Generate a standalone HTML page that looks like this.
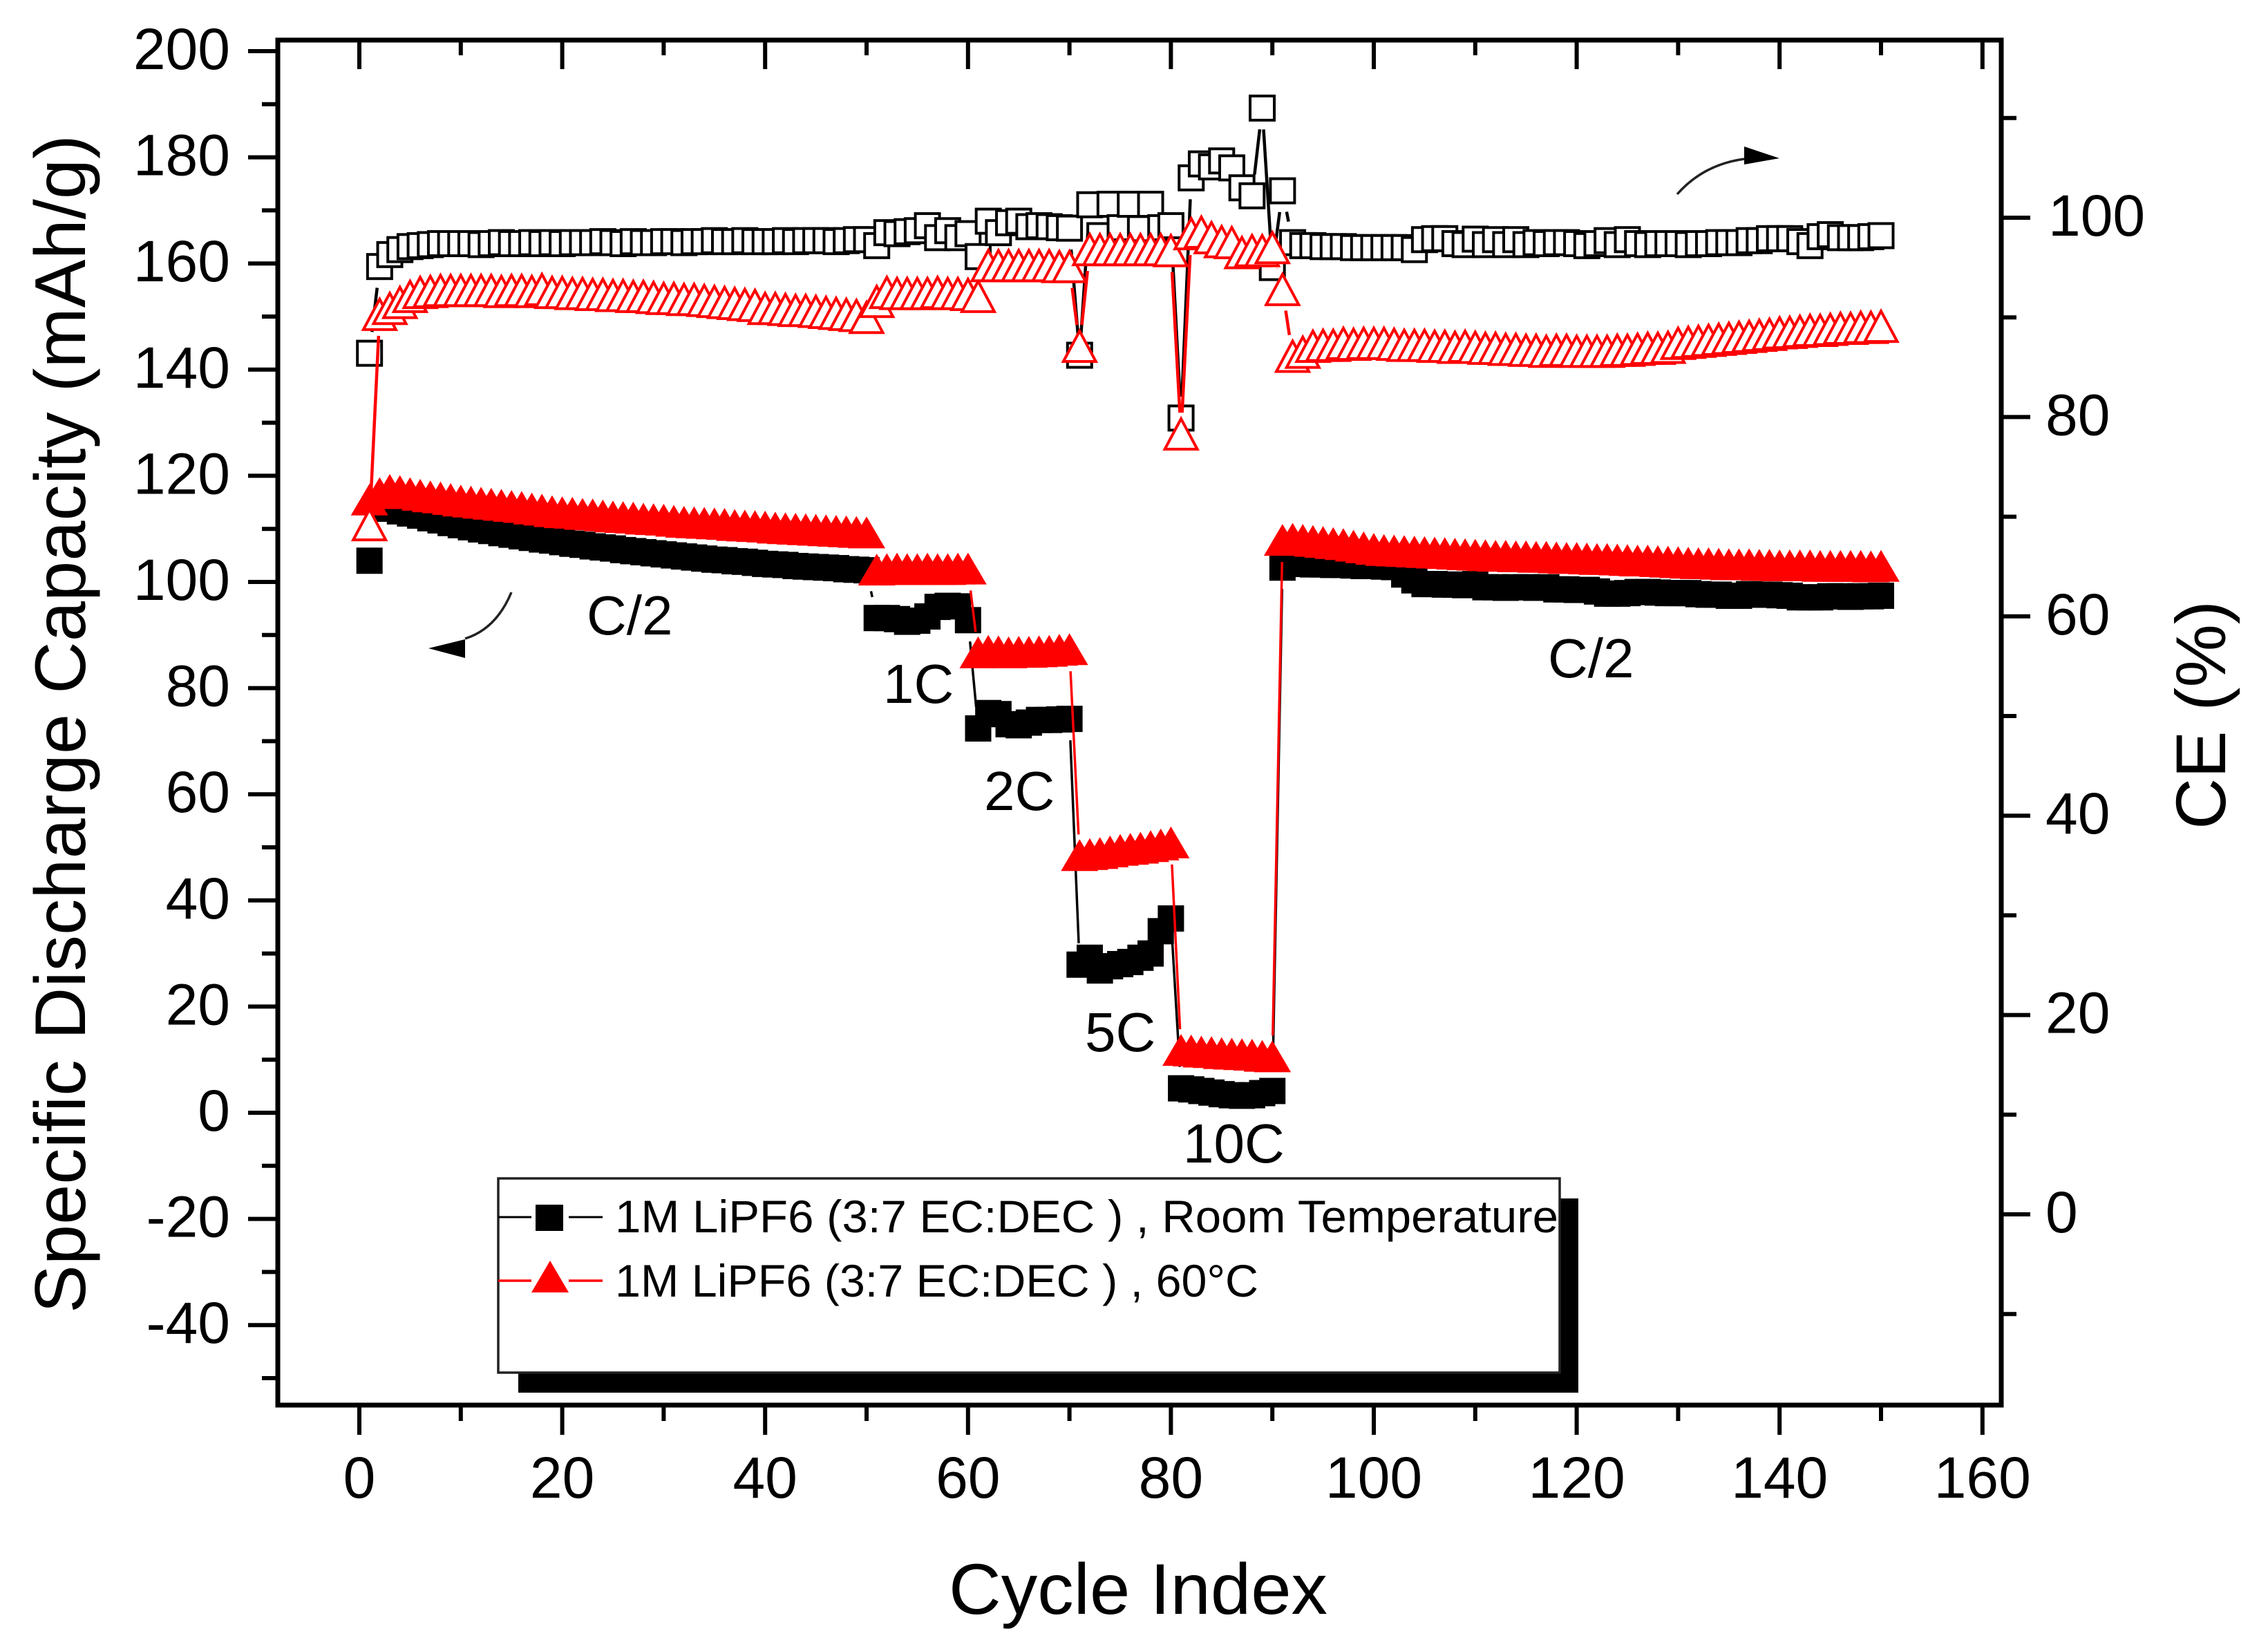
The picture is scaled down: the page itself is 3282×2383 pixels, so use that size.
<!DOCTYPE html>
<html>
<head>
<meta charset="utf-8">
<title>Specific Discharge Capacity vs Cycle Index</title>
<style>
html,body{margin:0;padding:0;background:#fff;}
svg{display:block;}
text{font-family:"Liberation Sans",sans-serif;fill:#000;}
</style>
</head>
<body>
<svg id="chart" xmlns="http://www.w3.org/2000/svg" width="3282" height="2383" viewBox="0 0 3282 2383">
  <rect x="0" y="0" width="3282" height="2383" fill="#fff"/>
  <g id="series-layer"></g>
  <rect x="402" y="58" width="2494" height="1975" fill="none" stroke="#000" stroke-width="7"/>
  <g id="axis-layer"></g>

  <text transform="translate(123,1900) rotate(-90)" font-size="104" textLength="1705" lengthAdjust="spacingAndGlyphs">Specific Discharge Capacity (mAh/g)</text>
  <text transform="translate(3220,1200) rotate(-90)" font-size="102" textLength="331" lengthAdjust="spacingAndGlyphs">CE (%)</text>
  <text x="1373" y="2335" font-size="104" textLength="548" lengthAdjust="spacingAndGlyphs">Cycle Index</text>

  <text x="849" y="918" font-size="80">C/2</text>
  <text x="1278" y="1017" font-size="80">1C</text>
  <text x="1424" y="1172" font-size="80">2C</text>
  <text x="1570" y="1521" font-size="80">5C</text>
  <text x="1712" y="1682" font-size="80">10C</text>
  <text x="2240" y="980" font-size="80">C/2</text>

  <g>
    <path d="M740,857 Q718,910 673,924" fill="none" stroke="#222" stroke-width="3.5"/>
    <polygon points="620,938 673,925 673,952" fill="#000"/>
  </g>
  <g>
    <path d="M2427,281 Q2465,238 2524,230" fill="none" stroke="#222" stroke-width="3.5"/>
    <polygon points="2575,229 2524,212 2524,238" fill="#000"/>
  </g>

  <g>
    <rect x="750" y="1734" width="1534" height="281" fill="#000"/>
    <rect x="721" y="1705" width="1536" height="281" fill="#fff" stroke="#222" stroke-width="3.5"/>
    <line x1="721" y1="1761" x2="769" y2="1761" stroke="#000" stroke-width="3"/>
    <line x1="823" y1="1761" x2="872" y2="1761" stroke="#000" stroke-width="3"/>
    <rect x="775" y="1743" width="40" height="38" fill="#000"/>
    <text x="890" y="1783" font-size="66" textLength="1365" lengthAdjust="spacingAndGlyphs">1M LiPF6 (3:7 EC:DEC ) , Room Temperature</text>
    <line x1="721" y1="1853" x2="769" y2="1853" stroke="#f00" stroke-width="3.5"/>
    <line x1="823" y1="1853" x2="872" y2="1853" stroke="#f00" stroke-width="3.5"/>
    <polygon points="769,1870 796,1824 823,1870" fill="#f00"/>
    <text x="890" y="1876" font-size="66" textLength="931" lengthAdjust="spacingAndGlyphs">1M LiPF6 (3:7 EC:DEC ) , 60°C</text>
  </g>
</svg>

<script>
// Tick labels
const xMajorTicks = [0, 20, 40, 60, 80, 100, 120, 140, 160];
const xMinorTicks = [10, 30, 50, 70, 90, 110, 130, 150];
const capMajorTicks = [-40, -20, 0, 20, 40, 60, 80, 100, 120, 140, 160, 180, 200];
const capMinorTicks = [-50, -30, -10, 10, 30, 50, 70, 90, 110, 130, 150, 170, 190];
const ceMajorTicks = [0, 20, 40, 60, 80, 100];
const ceMinorTicks = [-10, 10, 30, 50, 70, 90, 110];

// Specific discharge capacity at room temperature, cycles 1-150 (mAh/g)
const capacityRoom = [
104, 114.2, 113.8, 113.3, 112.9, 112.5, 112, 111.6, 111.1, 110.7,
110.3, 109.9, 109.6, 109.2, 108.9, 108.6, 108.3, 108, 107.8, 107.5,
107.2, 107, 106.7, 106.5, 106.3, 106, 105.8, 105.6, 105.4, 105.2,
105, 104.8, 104.6, 104.4, 104.2, 104.1, 103.9, 103.8, 103.6, 103.4,
103.3, 103.2, 103, 102.9, 102.8, 102.7, 102.6, 102.4, 102.3, 102.2,
93.2, 93.2, 93, 92.5, 92.7, 93.5, 95.3, 95.5, 95.4, 92.8,
72.4, 75.3, 75.1, 73.2, 73, 73.5, 74, 74, 74.1, 74.2,
27.9, 29.2, 26.8, 27.6, 28, 28.4, 29.2, 30, 34.2, 36.6,
4.6, 4.4, 4.1, 3.8, 3.5, 3.3, 3.2, 3.3, 3.7, 4.1,
102.7, 103.4, 103.4, 103.3, 103.3, 103.2, 103.2, 103.1, 103, 103,
102.9, 102.8, 101.4, 100.3, 99.6, 99.6, 99.5, 99.5, 99.4, 99.6,
99, 99, 98.9, 99, 99, 98.9, 99, 98.6, 98.6, 98.5,
98.5, 98.2, 97.8, 97.8, 97.9, 98.1, 98.1, 98, 97.9, 97.9,
97.9, 97.7, 97.6, 97.6, 97.4, 97.4, 97.7, 97.6, 97.6, 97.5,
97.4, 97.1, 97.1, 97.1, 97.3, 97.3, 97.2, 97.3, 97.3, 97.4
];

// Specific discharge capacity at 60 C, cycles 1-150 (mAh/g)
const capacity60C = [
115.4, 116.6, 117.2, 117, 116.6, 116.3, 116, 115.8, 115.5, 115.2,
115, 114.8, 114.6, 114.4, 114.2, 114, 113.7, 113.5, 113.2, 113,
112.9, 112.7, 112.6, 112.4, 112.2, 112.1, 112, 111.8, 111.7, 111.6,
111.4, 111.2, 111.1, 111, 110.9, 110.8, 110.6, 110.5, 110.4, 110.3,
110.1, 110, 109.9, 109.8, 109.7, 109.6, 109.5, 109.4, 109.3, 109.2,
102.2, 102.3, 102.4, 102.3, 102.3, 102.4, 102.3, 102.3, 102.4, 102.4,
86.6, 86.9, 86.8, 86.6, 86.7, 86.7, 86.8, 86.9, 87.1, 87.2,
48.4, 48.6, 48.8, 49.1, 49.4, 49.6, 49.8, 50.1, 50.4, 50.8,
11.7, 11.6, 11.4, 11.3, 11.1, 11, 10.9, 10.8, 10.6, 10.5,
107.8, 108, 107.8, 107.6, 107.4, 107.2, 107, 106.7, 106.4, 106.1,
105.9, 105.8, 105.7, 105.6, 105.5, 105.4, 105.3, 105.2, 105.1, 105,
104.9, 104.8, 104.8, 104.7, 104.7, 104.6, 104.6, 104.5, 104.4, 104.4,
104.3, 104.2, 104.2, 104.1, 104, 103.9, 103.9, 103.8, 103.7, 103.6,
103.5, 103.4, 103.4, 103.3, 103.2, 103.2, 103.2, 103.1, 103.1, 103,
103, 103, 103, 102.9, 102.9, 102.9, 102.9, 102.9, 102.8, 102.9
];

// Coulombic efficiency at room temperature, cycles 1-150 (%)
const ceRoom = [
86.4, 95.1, 96.3, 96.8, 97.1, 97.2, 97.3, 97.4, 97.4, 97.4,
97.4, 97.3, 97.4, 97.5, 97.4, 97.4, 97.5, 97.4, 97.5, 97.4,
97.5, 97.5, 97.5, 97.6, 97.5, 97.4, 97.6, 97.5, 97.5, 97.6,
97.6, 97.5, 97.6, 97.6, 97.7, 97.6, 97.6, 97.7, 97.6, 97.6,
97.6, 97.7, 97.6, 97.7, 97.7, 97.7, 97.6, 97.7, 97.8, 97.8,
97.2, 98.5, 98.4, 98.6, 98.7, 99.2, 98, 98.7, 98, 98.4,
96.1, 99.65, 98.5, 99.5, 99.65, 99.1, 99.2, 99.1, 99, 98.95,
86.2, 101.3, 98.2, 101.35, 99, 101.35, 98.9, 101.35, 99, 99.2,
79.9, 104, 105.4, 105.1, 105.7, 105, 103, 102.2, 111, 95,
102.7, 97.5, 97.2, 97.2, 97.1, 97.1, 97.1, 97, 97, 97,
97, 97, 97, 96.8, 97.8, 97.9, 97.9, 97.4, 97.3, 97.85,
97.3, 97.8, 97.3, 97.8, 97.3, 97.5, 97.4, 97.5, 97.5, 97.4,
97.2, 97.4, 97.7, 97.3, 97.8, 97.4, 97.3, 97.4, 97.4, 97.4,
97.3, 97.4, 97.4, 97.5, 97.5, 97.5, 97.7, 97.7, 97.9, 97.9,
97.9, 97.6, 97.2, 98.1, 98.3, 98, 98, 98, 98.1, 98.2
];

// Coulombic efficiency at 60 C, cycles 1-150 (%)
const ce60C = [
69.2, 90.3, 90.9, 91.5, 92.1, 92.5, 92.6, 92.7, 92.7, 92.7,
92.7, 92.7, 92.7, 92.6, 92.7, 92.7, 92.6, 92.8, 92.5, 92.5,
92.4, 92.4, 92.3, 92.3, 92.2, 92.2, 92.1, 92.1, 92, 91.9,
91.9, 91.8, 91.8, 91.7, 91.6, 91.5, 91.4, 91.3, 91.2, 90.9,
90.9, 90.8, 90.7, 90.7, 90.6, 90.5, 90.4, 90.3, 90.2, 90,
91.6, 92.5, 92.4, 92.4, 92.4, 92.4, 92.5, 92.4, 92.4, 92.3,
92.1, 95.2, 95.2, 95.2, 95.2, 95.2, 95.2, 95.2, 95.1, 95.1,
87.1, 96.8, 96.8, 96.8, 96.8, 96.8, 96.8, 96.8, 96.8, 96.7,
78.3, 98.4, 98.55, 98, 97.6, 97.5, 96.5, 96.7, 96.7, 97,
92.8, 86.1, 86.5, 87.1, 87.2, 87.2, 87.4, 87.3, 87.4, 87.4,
87.4, 87.3, 87.2, 87.2, 87.2, 87.1, 87.1, 87, 87.1, 87,
86.9, 86.9, 86.8, 86.8, 86.7, 86.7, 86.6, 86.7, 86.7, 86.6,
86.6, 86.6, 86.6, 86.7, 86.7, 86.8, 86.9, 86.9, 87, 87.4,
87.5, 87.6, 87.7, 87.8, 87.9, 88, 88.1, 88.2, 88.3, 88.45,
88.5, 88.6, 88.7, 88.7, 88.8, 88.9, 88.9, 89, 89, 89.1
];

const NS = 'http://www.w3.org/2000/svg';
const seriesLayer = document.getElementById('series-layer');
const axisLayer = document.getElementById('axis-layer');

function xScale(c) { return 520 + 14.68 * c; }
function capScale(v) { return 1610 - 7.68 * v; }
function ceScale(v) { return 315 + (100 - v) * 14.42; }

function make(tag, attrs, parent) {
  const el = document.createElementNS(NS, tag);
  for (const k in attrs) el.setAttribute(k, attrs[k]);
  parent.appendChild(el);
  return el;
}

function drawSeries(values, yScale, color, shape, hollow, label, lineWidth) {
  const group = make('g', {}, seriesLayer);
  
  
  const GAP = 31;
  const pts = values.map(function (v, i) { return [xScale(i + 1), yScale(v)]; });
  for (let i = 0; i < pts.length - 1; i++) {
    const dx = pts[i + 1][0] - pts[i][0];
    const dy = pts[i + 1][1] - pts[i][1];
    const len = Math.sqrt(dx * dx + dy * dy);
    if (len <= 2 * GAP) continue;
    const ux = dx / len, uy = dy / len;
    const seg = make('line', {
      x1: pts[i][0] + ux * GAP, y1: pts[i][1] + uy * GAP,
      x2: pts[i + 1][0] - ux * GAP, y2: pts[i + 1][1] - uy * GAP,
      stroke: color, 'stroke-width': lineWidth
    }, group);
    
    
  }
  pts.forEach(function (p) {
    let mark;
    const fill = hollow ? '#fff' : color;
    const stroke = hollow ? color : 'none';
    const sw = hollow ? 4 : 0;
    if (shape === 'square') {
      const s = hollow ? 35 : 38;
      mark = make('rect', { x: p[0] - s / 2, y: p[1] - s / 2, width: s, height: s, fill: fill, stroke: stroke, 'stroke-width': sw }, group);
    } else {
      const w = hollow ? 23.5 : 27;
      const t = hollow ? 22 : 24;
      const b = hollow ? 22 : 22;
      mark = make('polygon', {
        points: (p[0] - w) + ',' + (p[1] + b) + ' ' + p[0] + ',' + (p[1] - t) + ' ' + (p[0] + w) + ',' + (p[1] + b),
        fill: fill, stroke: stroke, 'stroke-width': sw
      }, group);
    }
    
    
  });
}

drawSeries(capacityRoom, capScale, '#000', 'square', false, 'capacity-room-temperature', 3.5);
drawSeries(capacity60C, capScale, '#f00', 'triangle', false, 'capacity-60c', 3.5);
drawSeries(ceRoom, ceScale, '#000', 'square', true, 'ce-room-temperature', 4.5);
drawSeries(ce60C, ceScale, '#f00', 'triangle', true, 'ce-60c', 4.5);

function tick(x1, y1, x2, y2, name) {
  const t = make('line', { x1: x1, y1: y1, x2: x2, y2: y2, stroke: '#000', 'stroke-width': 6 }, axisLayer);
  
  
}
function label(x, y, str, anchor, name) {
  const t = make('text', { x: x, y: y, 'font-size': 84, 'text-anchor': anchor }, axisLayer);
  t.textContent = str;
  
  
}

xMajorTicks.forEach(function (v) {
  tick(xScale(v), 2033, xScale(v), 2076, 'x-major-tick');
  tick(xScale(v), 58, xScale(v), 100, 'x-top-major-tick');
  label(xScale(v), 2167, String(v), 'middle', 'x-tick-label');
});
xMinorTicks.forEach(function (v) {
  tick(xScale(v), 2033, xScale(v), 2056, 'x-minor-tick');
  tick(xScale(v), 58, xScale(v), 80, 'x-top-minor-tick');
});
capMajorTicks.forEach(function (v) {
  tick(359, capScale(v), 402, capScale(v), 'y-major-tick');
  label(333, capScale(v) + 26, String(v), 'end', 'y-tick-label');
});
capMinorTicks.forEach(function (v) {
  tick(379, capScale(v), 402, capScale(v), 'y-minor-tick');
});
ceMajorTicks.forEach(function (v) {
  tick(2896, ceScale(v), 2938, ceScale(v), 'right-major-tick');
  label(v === 100 ? 2964 : 2960, ceScale(v) + 26, String(v), 'start', 'right-tick-label');
});
ceMinorTicks.forEach(function (v) {
  tick(2896, ceScale(v), 2918, ceScale(v), 'right-minor-tick');
});
</script>
</body>
</html>
